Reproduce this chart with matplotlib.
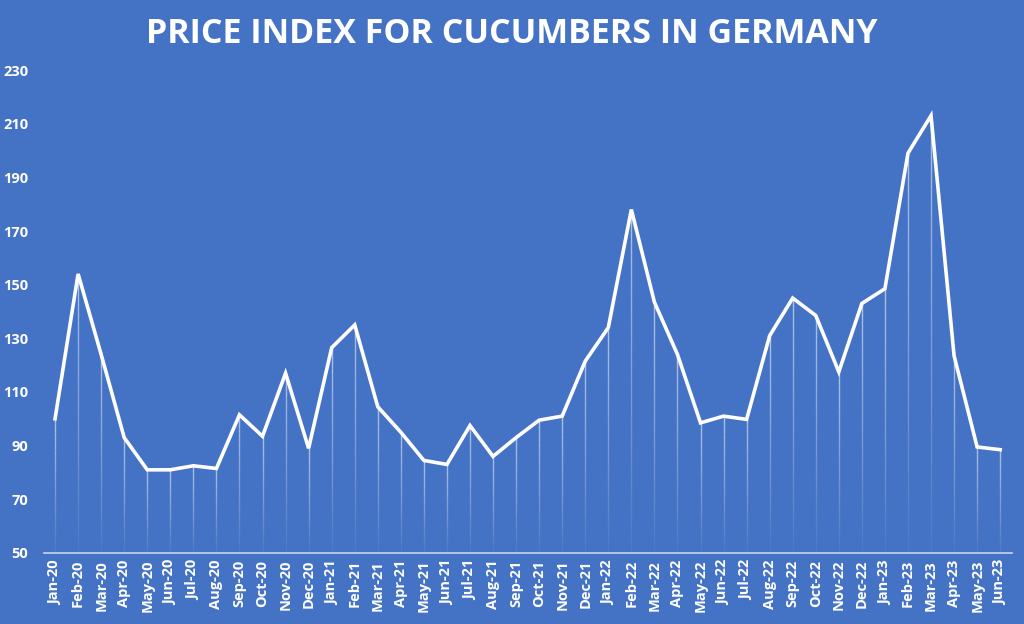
import numpy as np
import matplotlib
matplotlib.use("Agg")
from matplotlib import pyplot as plt
from matplotlib.collections import LineCollection

# monthly labels Jan-20 .. Jun-23
months = ['Jan', 'Feb', 'Mar', 'Apr', 'May', 'Jun',
          'Jul', 'Aug', 'Sep', 'Oct', 'Nov', 'Dec']
years = ['20', '21', '22', '23']
labels = [m + '-' + y for y in years for m in months][:42]

# price index values
index_values = [100, 154, 124, 93, 81, 81, 82.5, 81.5, 101.5, 93.5, 117, 89,
                126.5, 135, 104.5, 95, 84.5, 83, 97.5, 86, 93, 99.5, 101, 121.5,
                134, 178, 143.5, 124, 98.5, 101, 99.8, 131, 145, 138.5, 117.5, 143,
                148.5, 199, 213, 123.5, 89.5, 88.5]

bg = '#4472C4'
white = '#FFFFFF'

fig = plt.figure(figsize=(10.24, 6.24), dpi=100, facecolor=bg)
ax = fig.add_axes([0.0425, 0.1138, 0.9455, 0.774])
ax.set_facecolor(bg)

x = np.arange(len(index_values))
ymin = 50

# faint drop lines, fading toward the bottom
segs, cols = [], []
n_steps = 30
for xi, v in zip(x, index_values):
    edges = np.linspace(ymin, v, n_steps + 1)
    for k in range(n_steps):
        segs.append([(xi, edges[k]), (xi, edges[k + 1])])
        a = 0.05 + 0.55 * (k / n_steps)
        cols.append((1, 1, 1, a))
ax.add_collection(LineCollection(segs, colors=cols, linewidths=1.0, zorder=2))

ax.plot(x, index_values, color=white, linewidth=2.6, zorder=3,
        solid_joinstyle='miter')

ax.set_xlim(-0.5, len(index_values) - 0.5)
ax.set_ylim(50, 230)
ax.set_yticks(range(50, 231, 20))
ax.set_xticks(x)
ax.set_xticklabels(labels, rotation=90)

for side in ['top', 'right', 'left']:
    ax.spines[side].set_visible(False)
ax.spines['bottom'].set_color('#C9D6EE')
ax.spines['bottom'].set_linewidth(1.2)

ax.tick_params(axis='both', length=0, colors=white, labelsize=10.5)
ax.tick_params(axis='y', pad=11)
ax.tick_params(axis='x', pad=5)
for lab in ax.get_xticklabels() + ax.get_yticklabels():
    lab.set_fontweight('bold')
    lab.set_fontfamily('Open Sans')

fig.text(0.5, 0.945, 'PRICE INDEX FOR CUCUMBERS IN GERMANY', ha='center',
         va='center', color=white, fontsize=24.5, fontweight='bold',
         family='Open Sans')

fig.savefig('out.png', dpi=100, facecolor=bg)
